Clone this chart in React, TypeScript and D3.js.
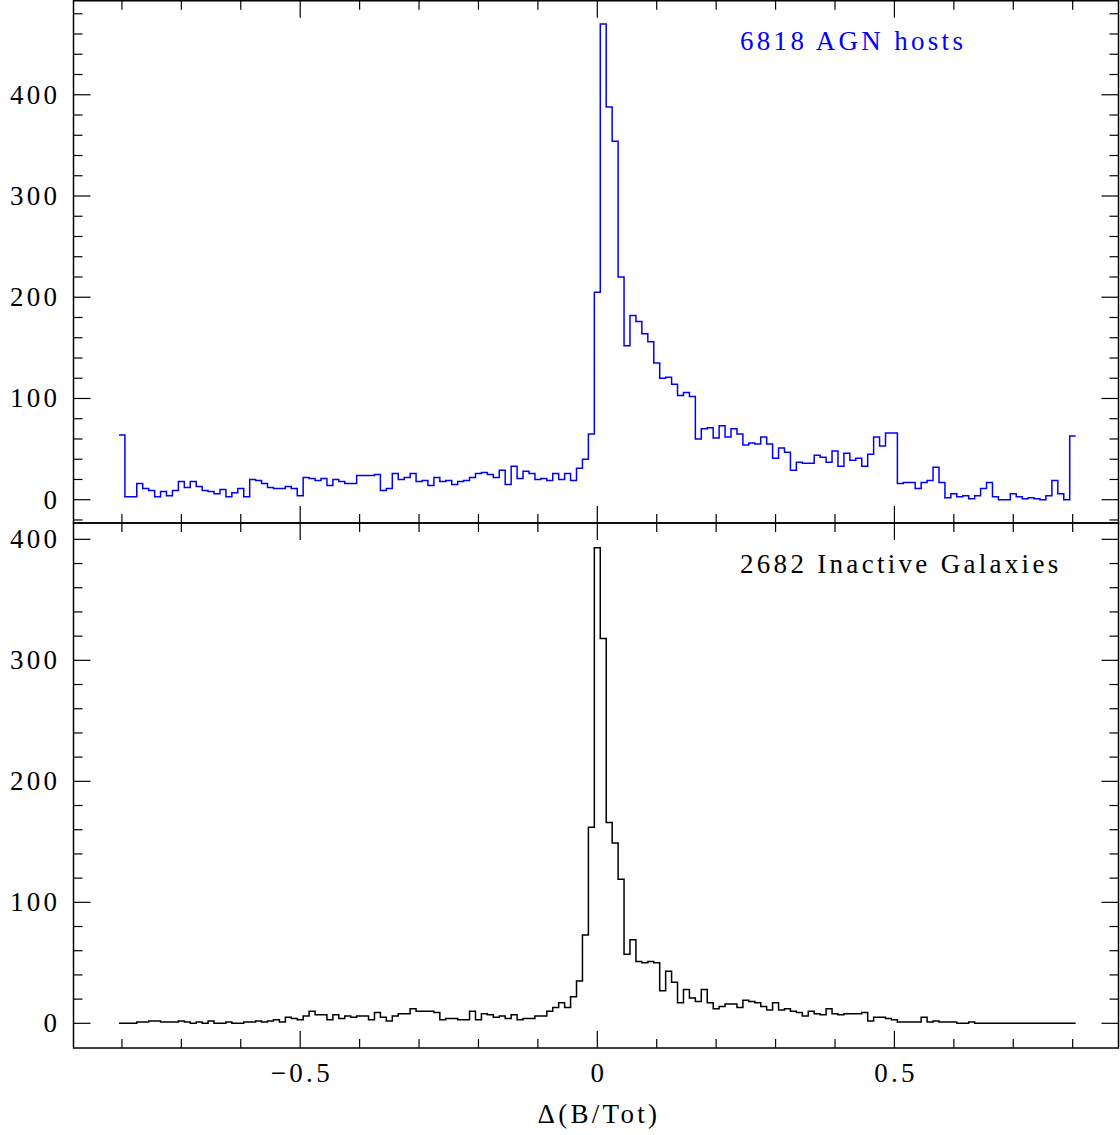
import React from "react";
import * as d3 from "d3";

// Histogram bins: centred on multiples of 0.01, from -0.80 to 0.80
const BIN_WIDTH = 0.01;
const binCenters: number[] = d3.range(-80, 81).map((k) => +(k * BIN_WIDTH).toFixed(2));

// 6818 AGN hosts (top panel)
const agnCounts: number[] = [
  64, 3, 3, 16, 11, 9, 3, 8, 4, 9,
  18, 12, 18, 13, 9, 8, 6, 10, 3, 7,
  11, 3, 20, 19, 16, 12, 11, 11, 13, 11,
  4, 22, 21, 19, 21, 14, 20, 18, 16, 16,
  24, 24, 24, 25, 9, 11, 26, 20, 22, 26,
  18, 19, 14, 22, 18, 19, 15, 18, 19, 22,
  26, 27, 25, 22, 29, 15, 33, 21, 28, 26,
  20, 21, 19, 26, 20, 26, 19, 31, 40, 65,
  205, 470, 388, 354, 220, 152, 182, 176, 164, 156,
  135, 120, 121, 114, 103, 106, 102, 60, 70, 71,
  61, 73, 62, 70, 65, 54, 56, 55, 62, 55,
  41, 51, 47, 29, 37, 36, 36, 44, 42, 37,
  48, 33, 46, 39, 41, 33, 45, 62, 53, 66,
  66, 16, 17, 17, 11, 17, 19, 32, 17, 2,
  6, 3, 4, 1, 4, 11, 17, 3, 0, 0,
  6, 3, 1, 2, 1, 0, 4, 19, 6, 0,
  63,
];

// 2682 inactive galaxies (bottom panel)
const inactiveCounts: number[] = [
  0, 0, 0, 1, 1, 2, 2, 1, 1, 1,
  2, 1, 0, 1, 0, 2, 0, 0, 1, 0,
  0, 1, 1, 2, 1, 2, 3, 1, 5, 4,
  3, 6, 10, 7, 7, 3, 7, 4, 6, 5,
  6, 6, 3, 9, 5, 2, 6, 8, 8, 12,
  10, 10, 10, 9, 3, 4, 4, 3, 3, 10,
  3, 8, 7, 5, 6, 4, 7, 3, 4, 4,
  6, 6, 10, 13, 17, 13, 22, 35, 73, 162,
  393, 318, 166, 149, 119, 57, 69, 51, 50, 51,
  50, 27, 43, 34, 17, 28, 21, 18, 28, 17,
  12, 14, 16, 16, 13, 19, 18, 17, 14, 11,
  17, 11, 12, 10, 9, 6, 10, 8, 7, 12,
  8, 7, 8, 8, 8, 9, 2, 5, 5, 4,
  3, 1, 1, 1, 1, 5, 1, 2, 1, 1,
  1, 0, 0, 1, 0, 0, 0, 0, 0, 0,
  0, 0, 0, 0, 0, 0, 0, 0, 0, 0,
  0,
];

const xTickValues: number[] = d3.range(-8, 9).map((k) => +(k / 10).toFixed(1));
const xMajorTicks: number[] = [-0.5, 0, 0.5];
const xTickLabels: string[] = ["\u22120.5", "0", "0.5"];
const yMinorStep = 20;
const yLabelValues: number[] = [0, 100, 200, 300, 400];

const panelLabels: string[] = ["6818 AGN hosts", "2682 Inactive Galaxies"];
const xTitle = "\u0394(B/Tot)";

const FONT = "'Liberation Serif', 'Times New Roman', serif";
const FS = 27;
const LS = 3.3;

export default function App() {
  const W = 1120;
  const H = 1135;
  const left = 73.5;
  const right = 1118.5;
  const x = d3.scaleLinear().domain([-0.8815, 0.8771]).range([left, right]);

  const panels = [
    {
      counts: agnCounts,
      color: "#0000ff",
      top: 0.75,
      bottom: 523,
      y: d3.scaleLinear().domain([-23.0, 493.6]).range([523, 0]),
      label: panelLabels[0],
      labelY: 50,
    },
    {
      counts: inactiveCounts,
      color: "#000000",
      top: 523,
      bottom: 1048,
      y: d3.scaleLinear().domain([-20.4, 413.5]).range([1048, 523]),
      label: panelLabels[1],
      labelY: 573,
    },
  ];

  const majLen = 17;
  const minLen = 9;

  return (
    <div style={{ position: "absolute", left: 0, top: 0, width: W, height: H, background: "#fff" }}>
      <svg width={W} height={H} viewBox={`0 0 ${W} ${H}`} style={{ display: "block" }}>
        <rect x={0} y={0} width={W} height={H} fill="#fff" />
        {panels.map((p, pi) => {
          const pts: [number, number][] = p.counts.map((c, i) => [binCenters[i] - BIN_WIDTH / 2, c]);
          pts.push([binCenters[binCenters.length - 1] + BIN_WIDTH / 2, p.counts[p.counts.length - 1]]);
          const line = d3
            .line<[number, number]>()
            .x((d) => x(d[0]))
            .y((d) => p.y(d[1]))
            .curve(d3.curveStepAfter);
          const [d0, d1] = p.y.domain();
          const yTicks = d3.range(Math.ceil(d0 / yMinorStep) * yMinorStep, d1, yMinorStep).filter(
            (v) => p.y(v) < p.bottom - 1 && p.y(v) > p.top + 1
          );
          return (
            <g key={pi}>
              <path d={line(pts) || ""} fill="none" stroke={p.color} strokeWidth={1.5} />
              {/* x ticks top and bottom */}
              {xTickValues.map((v) => {
                const len = xMajorTicks.includes(v) ? majLen : minLen;
                const xx = x(v);
                return (
                  <g key={`xt${v}`} stroke="#000" strokeWidth={1.2}>
                    <line x1={xx} x2={xx} y1={p.top} y2={p.top + len} />
                    <line x1={xx} x2={xx} y1={p.bottom} y2={p.bottom - len} />
                  </g>
                );
              })}
              {/* y ticks left and right */}
              {yTicks.map((v) => {
                const len = v % 100 === 0 ? majLen : minLen;
                const yy = p.y(v);
                return (
                  <g key={`yt${v}`} stroke="#000" strokeWidth={1.2}>
                    <line x1={left} x2={left + len} y1={yy} y2={yy} />
                    <line x1={right} x2={right - len} y1={yy} y2={yy} />
                  </g>
                );
              })}
              {/* y labels */}
              {yLabelValues.map((v) => (
                <text
                  key={`yl${v}`}
                  x={57 + LS}
                  y={p.y(v) + 9}
                  textAnchor="end"
                  fontFamily={FONT}
                  fontSize={FS}
                  letterSpacing={LS}
                  fill="#000"
                >
                  {v}
                </text>
              ))}
              <text
                x={740}
                y={p.labelY}
                fontFamily={FONT}
                fontSize={FS}
                letterSpacing={LS}
                fill={p.color}
              >
                {p.label}
              </text>
              <rect
                x={left}
                y={p.top}
                width={right - left}
                height={p.bottom - p.top}
                fill="none"
                stroke="#000"
                strokeWidth={1.5}
              />
            </g>
          );
        })}
        {xMajorTicks.map((v, i) => (
          <text
            key={`xl${v}`}
            x={x(v) + LS / 2}
            y={1082}
            textAnchor="middle"
            fontFamily={FONT}
            fontSize={FS}
            letterSpacing={LS}
            fill="#000"
          >
            {xTickLabels[i]}
          </text>
        ))}
        <text
          x={x(0) + LS / 2}
          y={1123}
          textAnchor="middle"
          fontFamily={FONT}
          fontSize={FS}
          letterSpacing={LS}
          fill="#000"
        >
          {xTitle}
        </text>
      </svg>
    </div>
  );
}
